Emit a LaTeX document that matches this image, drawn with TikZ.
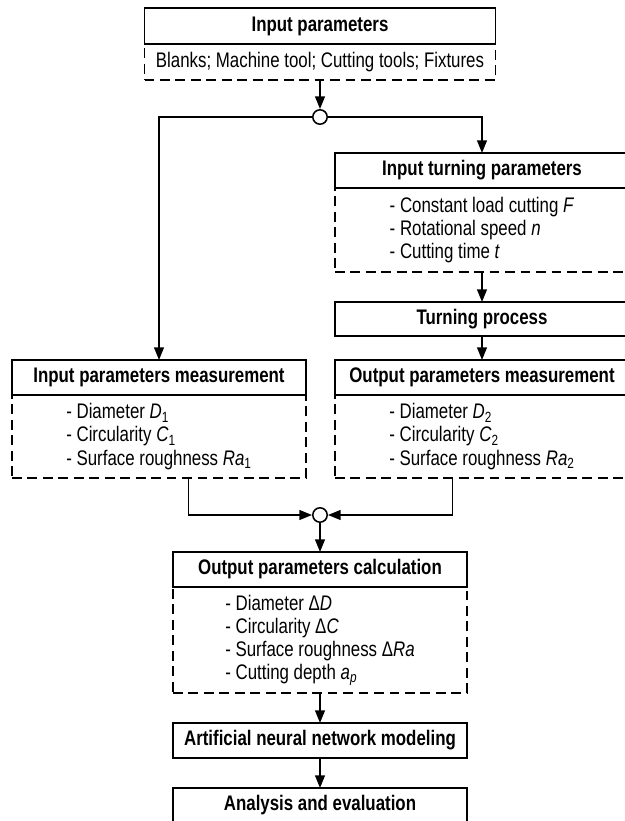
\documentclass[tikz,border=0pt]{standalone}
\usepackage{fontspec}
\setmainfont{Liberation Sans}[FakeStretch=0.8]
\usetikzlibrary{arrows.meta,positioning,calc}
\tikzset{
  titlebox/.style={rectangle,draw,line width=1.1pt,fill=white,align=center,minimum width=7.35cm,minimum height=0.875cm,outer sep=0pt,inner sep=2pt,font=\fontsize{15pt}{16.4pt}\selectfont\bfseries},
  listbox/.style={rectangle,draw,line width=1.1pt,dash pattern=on 7pt off 4pt,align=left,minimum width=7.35cm,outer sep=0pt,inner sep=2pt,font=\fontsize{15pt}{16.4pt}\selectfont},
  junction/.style={circle,draw,line width=1.1pt,fill=white,minimum size=0.36cm,inner sep=0pt},
  arrow/.style={-{Triangle[length=9pt,width=7pt]},line width=1.1pt}
}

\begin{document}
\begin{tikzpicture}
  \clip (0,0) rectangle (15.625,-20.525);
  \node[titlebox,minimum width=8.775cm,minimum height=0.9cm] (inpar) at (8,-0.65) {Input parameters};
  \node[listbox,minimum width=8.775cm,minimum height=0.9cm,below=0pt of inpar] (inparlist) {Blanks; Machine tool; Cutting tools; Fixtures};
  \node[junction] (split) at (8,-2.925) {};
  % right branch
  \node[titlebox] (turnpar) at (12.05,-4.2625) {Input turning parameters};
  \node[listbox,minimum height=2.1cm,below=0pt of turnpar] (turnparlist) {- Constant load cutting \textit{F}\\- Rotational speed \textit{n}\\- Cutting time \textit{t}};
  \node[titlebox,minimum height=0.85cm] (turnproc) at (12.05,-7.975) {Turning process};
  \node[titlebox] (outmeas) at (12.05,-9.4375) {Output parameters measurement};
  \node[listbox,minimum height=2.075cm,below=0pt of outmeas] (outmeaslist) {- Diameter \textit{D}\textsubscript{2}\\- Circularity \textit{C}\textsubscript{2}\\- Surface roughness \textit{Ra}\textsubscript{2}};
  % left branch
  \node[titlebox] (inmeas) at (3.975,-9.4375) {Input parameters measurement};
  \node[listbox,minimum height=2.075cm,below=0pt of inmeas] (inmeaslist) {- Diameter \textit{D}\textsubscript{1}\\- Circularity \textit{C}\textsubscript{1}\\- Surface roughness \textit{Ra}\textsubscript{1}};
  \node[junction] (join) at (8,-12.875) {};
  \node[titlebox] (outcalc) at (8,-14.2375) {Output parameters calculation};
  \node[listbox,minimum height=2.65cm,below=0pt of outcalc] (outcalclist) {- Diameter Δ\textit{D}\\- Circularity Δ\textit{C}\\- Surface roughness Δ\textit{Ra}\\- Cutting depth \textit{a}\textsubscript{\textit{p}}};
  \node[titlebox] (ann) at (8,-18.5125) {Artificial neural network modeling};
  \node[titlebox] (eval) at (8,-20.1375) {Analysis and evaluation};
  \draw[arrow] (inparlist) -- (split);
  \draw[arrow] (split) -| (inmeas);
  \draw[arrow] (split) -| (turnpar);
  \draw[arrow] (turnparlist) -- (turnproc);
  \draw[arrow] (turnproc) -- (outmeas);
  \draw[arrow] ($(inmeaslist.south west)!0.6!(inmeaslist.south east)$) |- (join);
  \draw[arrow] ($(outmeaslist.south west)!0.4!(outmeaslist.south east)$) |- (join);
  \draw[arrow] (join) -- (outcalc);
  \draw[arrow] (outcalclist) -- (ann);
  \draw[arrow] (ann) -- (eval);
\end{tikzpicture}
\end{document}
